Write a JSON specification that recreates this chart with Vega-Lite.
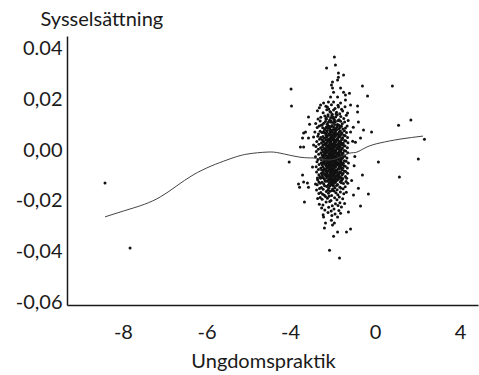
{
  "$schema": "https://vega.github.io/schema/vega-lite/v6.json",
  "width": 411,
  "height": 269,
  "autosize": {"type": "none"},
  "padding": {"left": 67, "top": 36, "right": 1, "bottom": 70},
  "background": "white",
  "config": {
    "view": {"stroke": null},
    "font": "Lato",
    "axis": {
      "grid": false,
      "ticks": false,
      "domainColor": "#1a1a1a",
      "domainWidth": 1.5,
      "labelFont": "Lato",
      "labelFontSize": 20,
      "labelColor": "#1a1a1a",
      "titleFont": "Lato",
      "titleFontSize": 20,
      "titleFontWeight": "normal",
      "titleColor": "#1a1a1a"
    }
  },
  "datasets": {
    "fit": [
      {"x": -8.43, "y": -0.0263}, {"x": -7.83, "y": -0.0232}, {"x": -7.11, "y": -0.0185},
      {"x": -6.32, "y": -0.0098}, {"x": -5.51, "y": -0.0039}, {"x": -5.03, "y": -0.0016},
      {"x": -4.55, "y": -0.0008}, {"x": -4.24, "y": -0.0012}, {"x": -3.53, "y": -0.0028},
      {"x": -2.92, "y": -0.0031}, {"x": -2.59, "y": -0.0035}, {"x": -2.12, "y": -0.0039},
      {"x": -1.65, "y": -0.0028}, {"x": -1.18, "y": -0.0012}, {"x": -0.85, "y": -0.0008},
      {"x": -0.38, "y": 0.0012}, {"x": 0.24, "y": 0.0028}, {"x": 1.18, "y": 0.0043},
      {"x": 2.26, "y": 0.0055}
    ],
    "obs": [
      {"x":-1.91,"y":0.0366},{"x":-1.86,"y":0.0335},{"x":-2.28,"y":0.0323},{"x":-1.72,"y":0.0303},{"x":-1.48,"y":0.0295},{"x":-1.72,"y":0.0287},{"x":-1.76,"y":0.0276},{"x":-2.00,"y":0.0268},{"x":-2.05,"y":0.0256},{"x":-2.00,"y":0.0244},{"x":-1.62,"y":0.0244},{"x":-1.48,"y":0.0228},{"x":-1.95,"y":0.0228},{"x":-1.76,"y":0.0209},{"x":-1.39,"y":0.0217},{"x":-1.20,"y":0.0224},{"x":-0.59,"y":0.0252},{"x":-0.35,"y":0.0213},{"x":-3.93,"y":0.0173},{"x":-2.09,"y":0.0209},{"x":-2.42,"y":0.0185},{"x":-2.19,"y":0.0189},{"x":-1.95,"y":0.0189},{"x":-1.62,"y":0.0185},{"x":-1.39,"y":0.0197},{"x":-1.15,"y":0.0177},{"x":-0.82,"y":0.0173},{"x":-2.56,"y":0.0177},{"x":-2.24,"y":0.0169},{"x":-1.72,"y":0.0169},
      {"x":-3.95,"y":0.0240},{"x":0.82,"y":0.0252},{"x":-3.13,"y":0.0130},{"x":-3.08,"y":0.0102},{"x":-3.36,"y":0.0067},{"x":-3.51,"y":0.0012},{"x":-0.16,"y":0.0071},{"x":0.16,"y":-0.0047},{"x":1.11,"y":0.0098},{"x":1.69,"y":0.0118},{"x":2.33,"y":0.0043},{"x":2.04,"y":-0.0035},{"x":1.15,"y":-0.0106},{"x":-4.02,"y":-0.0047},{"x":-3.60,"y":-0.0134},{"x":-3.55,"y":-0.0146},{"x":-8.43,"y":-0.0130},{"x":-7.83,"y":-0.0386},{"x":-0.31,"y":-0.0173},{"x":-3.32,"y":-0.0205},{"x":-0.68,"y":-0.0220},{"x":-1.25,"y":-0.0244},
      {"x":-2.14,"y":-0.0394},{"x":-1.67,"y":-0.0425},{"x":-1.95,"y":-0.0339},{"x":-1.15,"y":-0.0311},{"x":-1.34,"y":-0.0323},{"x":-1.76,"y":-0.0323},{"x":-2.38,"y":-0.0307},{"x":-2.33,"y":-0.0287},{"x":-2.00,"y":-0.0295},{"x":-1.91,"y":-0.0287},{"x":-2.05,"y":-0.0276},{"x":-2.42,"y":-0.0264},{"x":-1.76,"y":-0.0264},
      {"x":-3.41,"y":-0.0098},{"x":-3.36,"y":-0.0126},{"x":-3.18,"y":-0.0130},{"x":-3.13,"y":-0.0146},{"x":-2.80,"y":-0.0134},{"x":-2.94,"y":-0.0067},{"x":-2.71,"y":-0.0110},{"x":-0.59,"y":-0.0098},{"x":-0.78,"y":-0.0150},{"x":-1.01,"y":-0.0177},{"x":-3.27,"y":0.0071},{"x":-3.41,"y":0.0047},{"x":-3.13,"y":0.0047},{"x":-2.89,"y":0.0020},{"x":-2.89,"y":0.0051},{"x":-3.36,"y":0.0012},{"x":-0.82,"y":0.0150},{"x":-0.78,"y":0.0110},{"x":-0.68,"y":0.0047},{"x":-0.92,"y":0.0031},{"x":-0.54,"y":0.0079},{"x":-1.15,"y":0.0071},{"x":-1.05,"y":0.0035},{"x":-0.98,"y":-0.0062},{"x":-1.10,"y":-0.0120},{"x":-1.02,"y":0.0090},{"x":-0.95,"y":-0.0025},
      {"x":-2.31,"y":0.0172},{"x":-1.88,"y":0.0164},{"x":-2.05,"y":0.0178},{"x":-1.57,"y":0.0161},{"x":-2.62,"y":0.0167},{"x":-1.74,"y":0.0176},{"x":-2.18,"y":0.0162},{"x":-1.41,"y":0.0170},
      {"x":-2.12,"y":0.0152},{"x":-1.95,"y":0.0158},{"x":-2.44,"y":0.0147},{"x":-1.66,"y":0.0143},{"x":-2.27,"y":0.0159},{"x":-1.81,"y":0.0149},{"x":-2.71,"y":0.0155},{"x":-1.52,"y":0.0154},{"x":-2.01,"y":0.0141},{"x":-1.29,"y":0.0146},
      {"x":-2.36,"y":0.0134},{"x":-2.09,"y":0.0127},{"x":-1.78,"y":0.0138},{"x":-1.93,"y":0.0121},{"x":-2.55,"y":0.0129},{"x":-1.61,"y":0.0132},{"x":-2.21,"y":0.0139},{"x":-1.47,"y":0.0124},{"x":-2.03,"y":0.0136},{"x":-2.68,"y":0.0122},{"x":-1.85,"y":0.0130},{"x":-2.30,"y":0.0125},{"x":-1.35,"y":0.0137},{"x":-1.99,"y":0.0128},
      {"x":-2.14,"y":0.0117},{"x":-1.87,"y":0.0111},{"x":-2.41,"y":0.0106},{"x":-1.69,"y":0.0119},{"x":-2.25,"y":0.0102},{"x":-1.96,"y":0.0108},{"x":-2.58,"y":0.0114},{"x":-1.54,"y":0.0104},{"x":-2.07,"y":0.0115},{"x":-1.77,"y":0.0101},{"x":-2.33,"y":0.0112},{"x":-1.43,"y":0.0110},{"x":-2.79,"y":0.0105},{"x":-1.91,"y":0.0118},{"x":-2.19,"y":0.0109},{"x":-1.62,"y":0.0113},{"x":-2.48,"y":0.0100},{"x":-1.26,"y":0.0116},
      {"x":-2.02,"y":0.0097},{"x":-2.29,"y":0.0091},{"x":-1.83,"y":0.0085},{"x":-1.58,"y":0.0094},{"x":-2.46,"y":0.0088},{"x":-2.11,"y":0.0082},{"x":-1.72,"y":0.0099},{"x":-1.94,"y":0.0090},{"x":-2.63,"y":0.0095},{"x":-1.39,"y":0.0087},{"x":-2.20,"y":0.0096},{"x":-1.89,"y":0.0081},{"x":-2.37,"y":0.0084},{"x":-1.65,"y":0.0089},{"x":-2.06,"y":0.0093},{"x":-1.51,"y":0.0083},{"x":-2.53,"y":0.0098},{"x":-1.79,"y":0.0092},{"x":-2.15,"y":0.0086},{"x":-1.98,"y":0.0080},{"x":-2.72,"y":0.0089},{"x":-1.31,"y":0.0095},
      {"x":-2.09,"y":0.0078},{"x":-1.86,"y":0.0072},{"x":-2.32,"y":0.0066},{"x":-1.63,"y":0.0075},{"x":-2.50,"y":0.0069},{"x":-1.97,"y":0.0061},{"x":-2.24,"y":0.0077},{"x":-1.74,"y":0.0064},{"x":-2.41,"y":0.0073},{"x":-1.55,"y":0.0068},{"x":-2.04,"y":0.0070},{"x":-1.81,"y":0.0079},{"x":-2.66,"y":0.0063},{"x":-1.44,"y":0.0076},{"x":-2.17,"y":0.0062},{"x":-1.92,"y":0.0067},{"x":-2.36,"y":0.0079},{"x":-1.68,"y":0.0071},{"x":-2.12,"y":0.0065},{"x":-1.34,"y":0.0069},{"x":-2.58,"y":0.0074},{"x":-1.88,"y":0.0060},{"x":-2.27,"y":0.0070},{"x":-1.59,"y":0.0062},{"x":-2.01,"y":0.0075},{"x":-2.83,"y":0.0071},
      {"x":-2.13,"y":0.0058},{"x":-1.90,"y":0.0052},{"x":-2.38,"y":0.0046},{"x":-1.71,"y":0.0055},{"x":-2.55,"y":0.0049},{"x":-1.99,"y":0.0041},{"x":-2.22,"y":0.0057},{"x":-1.78,"y":0.0044},{"x":-2.45,"y":0.0053},{"x":-1.52,"y":0.0048},{"x":-2.07,"y":0.0050},{"x":-1.84,"y":0.0059},{"x":-2.61,"y":0.0043},{"x":-1.40,"y":0.0056},{"x":-2.19,"y":0.0042},{"x":-1.95,"y":0.0047},{"x":-2.31,"y":0.0059},{"x":-1.64,"y":0.0051},{"x":-2.10,"y":0.0045},{"x":-1.29,"y":0.0049},{"x":-2.69,"y":0.0054},{"x":-1.86,"y":0.0040},{"x":-2.28,"y":0.0050},{"x":-1.57,"y":0.0042},{"x":-2.03,"y":0.0055},{"x":-1.75,"y":0.0047},{"x":-2.48,"y":0.0041},{"x":-1.46,"y":0.0058},
      {"x":-2.06,"y":0.0038},{"x":-1.83,"y":0.0032},{"x":-2.35,"y":0.0026},{"x":-1.66,"y":0.0035},{"x":-2.52,"y":0.0029},{"x":-1.97,"y":0.0021},{"x":-2.20,"y":0.0037},{"x":-1.73,"y":0.0024},{"x":-2.42,"y":0.0033},{"x":-1.49,"y":0.0028},{"x":-2.11,"y":0.0030},{"x":-1.88,"y":0.0039},{"x":-2.64,"y":0.0023},{"x":-1.37,"y":0.0036},{"x":-2.16,"y":0.0022},{"x":-1.93,"y":0.0027},{"x":-2.29,"y":0.0039},{"x":-1.61,"y":0.0031},{"x":-2.01,"y":0.0025},{"x":-1.27,"y":0.0029},{"x":-2.74,"y":0.0034},{"x":-1.80,"y":0.0020},{"x":-2.25,"y":0.0030},{"x":-1.55,"y":0.0022},{"x":-2.08,"y":0.0035},{"x":-1.70,"y":0.0027},{"x":-2.45,"y":0.0021},{"x":-1.43,"y":0.0038},{"x":-2.33,"y":0.0024},{"x":-1.91,"y":0.0033},
      {"x":-2.10,"y":0.0018},{"x":-1.87,"y":0.0012},{"x":-2.39,"y":0.0006},{"x":-1.69,"y":0.0015},{"x":-2.56,"y":0.0009},{"x":-2.00,"y":0.0001},{"x":-2.23,"y":0.0017},{"x":-1.76,"y":0.0004},{"x":-2.47,"y":0.0013},{"x":-1.53,"y":0.0008},{"x":-2.14,"y":0.0010},{"x":-1.92,"y":0.0019},{"x":-2.67,"y":0.0003},{"x":-1.41,"y":0.0016},{"x":-2.18,"y":0.0002},{"x":-1.96,"y":0.0007},{"x":-2.31,"y":0.0019},{"x":-1.63,"y":0.0011},{"x":-2.05,"y":0.0005},{"x":-1.30,"y":0.0009},{"x":-2.78,"y":0.0014},{"x":-1.84,"y":0.0000},{"x":-2.27,"y":0.0010},{"x":-1.58,"y":0.0002},{"x":-2.03,"y":0.0015},{"x":-1.73,"y":0.0007},{"x":-2.50,"y":0.0001},{"x":-1.47,"y":0.0018},{"x":-2.36,"y":0.0004},{"x":-1.89,"y":0.0013},{"x":-2.12,"y":0.0006},{"x":-1.66,"y":0.0017},
      {"x":-2.08,"y":-0.0002},{"x":-1.85,"y":-0.0008},{"x":-2.37,"y":-0.0014},{"x":-1.67,"y":-0.0005},{"x":-2.54,"y":-0.0011},{"x":-1.98,"y":-0.0019},{"x":-2.21,"y":-0.0003},{"x":-1.74,"y":-0.0016},{"x":-2.44,"y":-0.0007},{"x":-1.50,"y":-0.0012},{"x":-2.13,"y":-0.0010},{"x":-1.90,"y":-0.0001},{"x":-2.65,"y":-0.0017},{"x":-1.38,"y":-0.0004},{"x":-2.17,"y":-0.0018},{"x":-1.94,"y":-0.0013},{"x":-2.30,"y":-0.0001},{"x":-1.60,"y":-0.0009},{"x":-2.04,"y":-0.0015},{"x":-1.28,"y":-0.0011},{"x":-2.76,"y":-0.0006},{"x":-1.82,"y":-0.0020},{"x":-2.26,"y":-0.0010},{"x":-1.56,"y":-0.0018},{"x":-2.02,"y":-0.0005},{"x":-1.71,"y":-0.0013},{"x":-2.49,"y":-0.0019},{"x":-1.45,"y":-0.0002},{"x":-2.34,"y":-0.0016},{"x":-1.88,"y":-0.0007},{"x":-2.11,"y":-0.0014},{"x":-1.64,"y":-0.0003},{"x":-2.41,"y":-0.0008},{"x":-1.79,"y":-0.0011},
      {"x":-2.12,"y":-0.0022},{"x":-1.89,"y":-0.0028},{"x":-2.40,"y":-0.0034},{"x":-1.70,"y":-0.0025},{"x":-2.57,"y":-0.0031},{"x":-2.01,"y":-0.0039},{"x":-2.24,"y":-0.0023},{"x":-1.77,"y":-0.0036},{"x":-2.46,"y":-0.0027},{"x":-1.54,"y":-0.0032},{"x":-2.15,"y":-0.0030},{"x":-1.93,"y":-0.0021},{"x":-2.68,"y":-0.0037},{"x":-1.42,"y":-0.0024},{"x":-2.19,"y":-0.0038},{"x":-1.97,"y":-0.0033},{"x":-2.32,"y":-0.0021},{"x":-1.62,"y":-0.0029},{"x":-2.06,"y":-0.0035},{"x":-1.32,"y":-0.0031},{"x":-2.80,"y":-0.0026},{"x":-1.86,"y":-0.0040},{"x":-2.28,"y":-0.0030},{"x":-1.59,"y":-0.0038},{"x":-2.04,"y":-0.0025},{"x":-1.75,"y":-0.0033},{"x":-2.52,"y":-0.0039},{"x":-1.48,"y":-0.0022},{"x":-2.36,"y":-0.0036},{"x":-1.91,"y":-0.0027},{"x":-2.09,"y":-0.0034},{"x":-1.67,"y":-0.0023},{"x":-2.43,"y":-0.0028},{"x":-1.81,"y":-0.0031},
      {"x":-2.07,"y":-0.0042},{"x":-1.84,"y":-0.0048},{"x":-2.35,"y":-0.0054},{"x":-1.65,"y":-0.0045},{"x":-2.53,"y":-0.0051},{"x":-1.96,"y":-0.0059},{"x":-2.20,"y":-0.0043},{"x":-1.72,"y":-0.0056},{"x":-2.43,"y":-0.0047},{"x":-1.49,"y":-0.0052},{"x":-2.10,"y":-0.0050},{"x":-1.87,"y":-0.0041},{"x":-2.63,"y":-0.0057},{"x":-1.36,"y":-0.0044},{"x":-2.14,"y":-0.0058},{"x":-1.92,"y":-0.0053},{"x":-2.29,"y":-0.0041},{"x":-1.57,"y":-0.0049},{"x":-2.00,"y":-0.0055},{"x":-1.25,"y":-0.0051},{"x":-2.73,"y":-0.0046},{"x":-1.80,"y":-0.0060},{"x":-2.25,"y":-0.0050},{"x":-1.54,"y":-0.0058},{"x":-2.03,"y":-0.0045},{"x":-1.69,"y":-0.0053},{"x":-2.48,"y":-0.0059},{"x":-1.44,"y":-0.0042},{"x":-2.32,"y":-0.0056},{"x":-1.89,"y":-0.0047},{"x":-2.17,"y":-0.0054},{"x":-1.61,"y":-0.0043},{"x":-2.39,"y":-0.0048},{"x":-1.77,"y":-0.0051},
      {"x":-2.11,"y":-0.0062},{"x":-1.88,"y":-0.0068},{"x":-2.38,"y":-0.0074},{"x":-1.68,"y":-0.0065},{"x":-2.55,"y":-0.0071},{"x":-1.99,"y":-0.0079},{"x":-2.22,"y":-0.0063},{"x":-1.75,"y":-0.0076},{"x":-2.45,"y":-0.0067},{"x":-1.52,"y":-0.0072},{"x":-2.13,"y":-0.0070},{"x":-1.91,"y":-0.0061},{"x":-2.66,"y":-0.0077},{"x":-1.40,"y":-0.0064},{"x":-2.18,"y":-0.0078},{"x":-1.95,"y":-0.0073},{"x":-2.31,"y":-0.0061},{"x":-1.60,"y":-0.0069},{"x":-2.05,"y":-0.0075},{"x":-1.30,"y":-0.0071},{"x":-2.77,"y":-0.0066},{"x":-1.83,"y":-0.0080},{"x":-2.27,"y":-0.0070},{"x":-1.56,"y":-0.0078},{"x":-2.02,"y":-0.0065},{"x":-1.72,"y":-0.0073},{"x":-2.51,"y":-0.0079},{"x":-1.46,"y":-0.0062},{"x":-2.34,"y":-0.0076},{"x":-1.86,"y":-0.0067},{"x":-2.09,"y":-0.0074},{"x":-1.64,"y":-0.0063},
      {"x":-2.08,"y":-0.0082},{"x":-1.85,"y":-0.0088},{"x":-2.36,"y":-0.0094},{"x":-1.66,"y":-0.0085},{"x":-2.52,"y":-0.0091},{"x":-1.97,"y":-0.0099},{"x":-2.21,"y":-0.0083},{"x":-1.73,"y":-0.0096},{"x":-2.44,"y":-0.0087},{"x":-1.50,"y":-0.0092},{"x":-2.12,"y":-0.0090},{"x":-1.90,"y":-0.0081},{"x":-2.64,"y":-0.0097},{"x":-1.38,"y":-0.0084},{"x":-2.16,"y":-0.0098},{"x":-1.93,"y":-0.0093},{"x":-2.30,"y":-0.0081},{"x":-1.59,"y":-0.0089},{"x":-2.03,"y":-0.0095},{"x":-1.29,"y":-0.0091},{"x":-2.75,"y":-0.0086},{"x":-1.81,"y":-0.0100},{"x":-2.26,"y":-0.0090},{"x":-1.55,"y":-0.0098},{"x":-2.01,"y":-0.0085},{"x":-1.70,"y":-0.0093},{"x":-2.49,"y":-0.0099},{"x":-1.45,"y":-0.0082},{"x":-2.33,"y":-0.0096},{"x":-1.87,"y":-0.0087},
      {"x":-2.10,"y":-0.0102},{"x":-1.87,"y":-0.0108},{"x":-2.39,"y":-0.0114},{"x":-1.67,"y":-0.0105},{"x":-2.56,"y":-0.0111},{"x":-1.98,"y":-0.0119},{"x":-2.23,"y":-0.0103},{"x":-1.74,"y":-0.0116},{"x":-2.47,"y":-0.0107},{"x":-1.51,"y":-0.0112},{"x":-2.14,"y":-0.0110},{"x":-1.92,"y":-0.0101},{"x":-2.70,"y":-0.0117},{"x":-1.39,"y":-0.0104},{"x":-2.19,"y":-0.0118},{"x":-1.95,"y":-0.0113},{"x":-2.32,"y":-0.0101},{"x":-1.61,"y":-0.0109},{"x":-2.05,"y":-0.0115},{"x":-1.33,"y":-0.0111},{"x":-2.60,"y":-0.0106},{"x":-1.82,"y":-0.0120},{"x":-2.28,"y":-0.0110},{"x":-1.57,"y":-0.0118},{"x":-2.01,"y":-0.0105},{"x":-1.72,"y":-0.0113},
      {"x":-2.09,"y":-0.0122},{"x":-1.86,"y":-0.0128},{"x":-2.41,"y":-0.0134},{"x":-1.64,"y":-0.0125},{"x":-2.58,"y":-0.0131},{"x":-2.00,"y":-0.0139},{"x":-2.24,"y":-0.0123},{"x":-1.76,"y":-0.0136},{"x":-2.49,"y":-0.0127},{"x":-1.48,"y":-0.0132},{"x":-2.15,"y":-0.0130},{"x":-1.93,"y":-0.0121},{"x":-2.72,"y":-0.0137},{"x":-1.36,"y":-0.0124},{"x":-2.20,"y":-0.0138},{"x":-1.96,"y":-0.0133},{"x":-2.34,"y":-0.0121},{"x":-1.58,"y":-0.0129},{"x":-2.06,"y":-0.0135},{"x":-1.28,"y":-0.0131},{"x":-2.64,"y":-0.0126},{"x":-1.81,"y":-0.0140},
      {"x":-2.13,"y":-0.0142},{"x":-1.89,"y":-0.0148},{"x":-2.44,"y":-0.0154},{"x":-1.66,"y":-0.0145},{"x":-2.61,"y":-0.0151},{"x":-2.02,"y":-0.0159},{"x":-2.27,"y":-0.0143},{"x":-1.78,"y":-0.0156},{"x":-2.52,"y":-0.0147},{"x":-1.50,"y":-0.0152},{"x":-2.17,"y":-0.0150},{"x":-1.95,"y":-0.0141},{"x":-2.75,"y":-0.0157},{"x":-1.40,"y":-0.0144},{"x":-2.22,"y":-0.0158},{"x":-1.99,"y":-0.0153},{"x":-2.37,"y":-0.0141},{"x":-1.61,"y":-0.0149},
      {"x":-2.11,"y":-0.0162},{"x":-1.84,"y":-0.0168},{"x":-2.46,"y":-0.0174},{"x":-1.63,"y":-0.0165},{"x":-2.64,"y":-0.0171},{"x":-2.04,"y":-0.0179},{"x":-2.29,"y":-0.0163},{"x":-1.75,"y":-0.0176},{"x":-2.55,"y":-0.0167},{"x":-1.47,"y":-0.0172},{"x":-2.19,"y":-0.0170},{"x":-1.92,"y":-0.0161},{"x":-2.38,"y":-0.0178},{"x":-1.35,"y":-0.0166},
      {"x":-2.16,"y":-0.0182},{"x":-1.90,"y":-0.0188},{"x":-2.49,"y":-0.0194},{"x":-1.68,"y":-0.0185},{"x":-2.70,"y":-0.0191},{"x":-2.07,"y":-0.0199},{"x":-2.33,"y":-0.0183},{"x":-1.79,"y":-0.0196},{"x":-2.58,"y":-0.0187},{"x":-1.52,"y":-0.0192},{"x":-2.24,"y":-0.0190},
      {"x":-2.13,"y":-0.0203},{"x":-1.86,"y":-0.0211},{"x":-2.45,"y":-0.0216},{"x":-1.65,"y":-0.0207},{"x":-2.62,"y":-0.0213},{"x":-2.01,"y":-0.0219},{"x":-2.30,"y":-0.0205},{"x":-1.74,"y":-0.0218},{"x":-1.43,"y":-0.0210},
      {"x":-2.18,"y":-0.0225},{"x":-1.93,"y":-0.0232},{"x":-2.51,"y":-0.0228},{"x":-1.70,"y":-0.0238},{"x":-2.36,"y":-0.0236},{"x":-1.58,"y":-0.0224},{"x":-2.06,"y":-0.0240},
      {"x":-2.21,"y":-0.0246},{"x":-1.88,"y":-0.0252},{"x":-2.44,"y":-0.0255},{"x":-1.62,"y":-0.0249},{"x":-2.03,"y":-0.0258},
      {"x":-2.245,"y":0.0087},{"x":-1.935,"y":0.0079},{"x":-2.115,"y":0.0071},{"x":-1.705,"y":0.0083},{"x":-2.385,"y":0.0068},{"x":-1.815,"y":0.0064},{"x":-2.045,"y":0.0058},{"x":-1.625,"y":0.0061},{"x":-2.275,"y":0.0053},{"x":-1.955,"y":0.0047},{"x":-2.175,"y":0.0044},{"x":-1.745,"y":0.0039},{"x":-2.425,"y":0.0036},{"x":-1.875,"y":0.0031},{"x":-2.085,"y":0.0027},{"x":-1.585,"y":0.0024},{"x":-2.315,"y":0.0019},{"x":-1.995,"y":0.0016},{"x":-2.205,"y":0.0011},{"x":-1.785,"y":0.0008},{"x":-2.355,"y":0.0003},{"x":-1.655,"y":0.0001},{"x":-2.025,"y":0.0049},{"x":-1.905,"y":0.0023},{"x":-2.145,"y":0.0036},{"x":-1.845,"y":0.0057},{"x":-2.295,"y":0.0041},{"x":-1.725,"y":0.0017},{"x":-2.065,"y":0.0013},{"x":-1.545,"y":0.0044},
      {"x":-2.235,"y":-0.0004},{"x":-1.965,"y":-0.0009},{"x":-2.125,"y":-0.0013},{"x":-1.695,"y":-0.0017},{"x":-2.405,"y":-0.0021},{"x":-1.825,"y":-0.0026},{"x":-2.015,"y":-0.0029},{"x":-1.615,"y":-0.0033},{"x":-2.265,"y":-0.0037},{"x":-1.945,"y":-0.0041},{"x":-2.185,"y":-0.0046},{"x":-1.755,"y":-0.0049},{"x":-2.435,"y":-0.0052},{"x":-1.865,"y":-0.0056},{"x":-2.095,"y":-0.0059},{"x":-1.575,"y":-0.0023},{"x":-2.325,"y":-0.0007},{"x":-1.985,"y":-0.0044},{"x":-2.215,"y":-0.0031},{"x":-1.795,"y":-0.0014},{"x":-2.365,"y":-0.0039},{"x":-1.645,"y":-0.0055},{"x":-2.035,"y":-0.0019},{"x":-1.915,"y":-0.0034},{"x":-2.155,"y":-0.0024},{"x":-1.835,"y":-0.0011},{"x":-2.285,"y":-0.0053},{"x":-1.715,"y":-0.0037},{"x":-2.055,"y":-0.0047},{"x":-1.535,"y":-0.0029},
      {"x":-2.255,"y":-0.0063},{"x":-1.925,"y":-0.0066},{"x":-2.105,"y":-0.0071},{"x":-1.685,"y":-0.0074},{"x":-2.395,"y":-0.0078},{"x":-1.805,"y":-0.0082},{"x":-2.005,"y":-0.0085},{"x":-1.605,"y":-0.0089},{"x":-2.275,"y":-0.0093},{"x":-1.935,"y":-0.0096},{"x":-2.165,"y":-0.0101},{"x":-1.765,"y":-0.0104},{"x":-2.445,"y":-0.0108},{"x":-1.855,"y":-0.0112},{"x":-2.075,"y":-0.0116},{"x":-1.565,"y":-0.0119},{"x":-2.335,"y":-0.0123},{"x":-1.975,"y":-0.0127},{"x":-2.225,"y":-0.0069},{"x":-1.775,"y":-0.0087},{"x":-2.375,"y":-0.0095},{"x":-1.635,"y":-0.0106},{"x":-2.045,"y":-0.0077},{"x":-1.895,"y":-0.0091},{"x":-2.135,"y":-0.0113},{"x":-1.825,"y":-0.0121},{"x":-2.305,"y":-0.0083},{"x":-1.725,"y":-0.0099},{"x":-2.065,"y":-0.0125},{"x":-1.555,"y":-0.0072},
      {"x":-2.165,"y":0.0094},{"x":-1.895,"y":0.0101},{"x":-2.055,"y":0.0109},{"x":-1.755,"y":0.0115},{"x":-2.295,"y":0.0121},{"x":-1.965,"y":0.0128},{"x":-1.675,"y":0.0097},{"x":-2.215,"y":0.0133},{"x":-1.835,"y":0.0142},{"x":-2.085,"y":0.0149}
    ]
  },
  "encoding": {
    "x": {
      "field": "x",
      "type": "quantitative",
      "scale": {"domain": [-9.34, -4, 4.85], "range": [0, 223, 411], "nice": false, "zero": false},
      "axis": {
        "title": "Ungdomspraktik",
        "values": [-8, -6, -4, 0, 4],
        "labelExpr": "(datum.value < 0 ? '-' : '') + abs(datum.value)",
        "labelBaseline": "alphabetic",
        "labelPadding": 33,
        "titleX": 196,
        "titleY": 62,
        "titleAlign": "center",
        "titleBaseline": "alphabetic"
      }
    },
    "y": {
      "field": "y",
      "type": "quantitative",
      "scale": {"domain": [-0.061, 0.0449], "nice": false, "zero": false},
      "axis": {
        "title": "Sysselsättning",
        "values": [-0.06, -0.04, -0.02, 0, 0.02, 0.04],
        "labelExpr": "datum.value == 0.04 ? '0.04' : (datum.value < 0 ? '-' : '') + replace(format(abs(datum.value), '.2f'), '.', ',')",
        "labelPadding": 5,
        "titleAngle": 0,
        "titleAlign": "left",
        "titleBaseline": "alphabetic",
        "titleX": -27,
        "titleY": -11
      }
    }
  },
  "layer": [
    {
      "data": {"name": "obs"},
      "mark": {"type": "circle", "size": 9, "color": "#111111", "opacity": 1}
    },
    {
      "data": {"name": "fit"},
      "mark": {"type": "line", "interpolate": "natural", "color": "#444444", "strokeWidth": 1}
    }
  ]
}
